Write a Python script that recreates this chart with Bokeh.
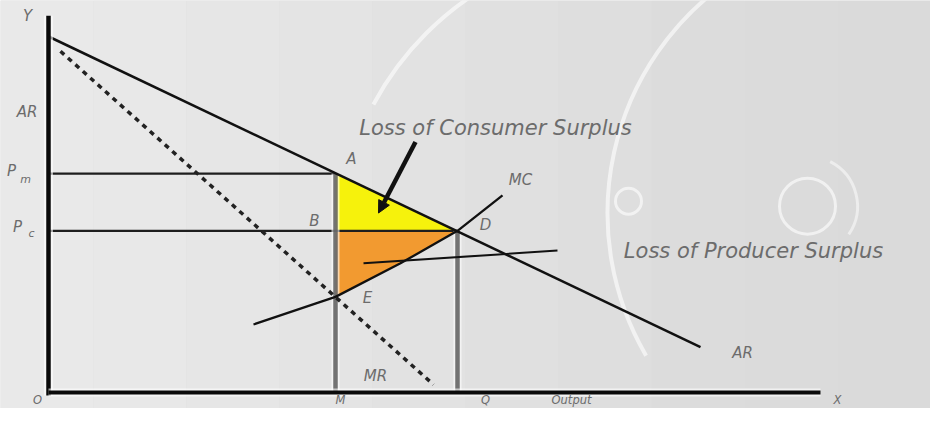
from bokeh.plotting import figure
from bokeh.models import Range1d, Arrow, NormalHead
from bokeh.core.properties import value
from bokeh.embed import file_html
from bokeh.resources import INLINE

# ---- economic curves (quantity / price units, origin at O) ----
ar_q = [0, 652]            # average revenue (demand)
ar_p = [361, 46]
mr_q = [12, 385]           # marginal revenue (dashed)
mr_p = [346, 8]
mc_q = [205, 272, 287, 352, 409, 454]   # marginal cost
mc_p = [69, 92, 97, 131, 164, 200]
q_m, q_c = 287, 409        # monopoly output M, competitive output Q
p_m, p_c = 222, 164        # monopoly price, competitive price
p_e = 97                   # MC = MR at M (point E)
x_axis_len = 772
y_axis_len = 382

# pointers
cs_arrow = [367, 254, 330, 182]     # x0, y0, x1, y1
ps_pointer_q = [315, 509]
ps_pointer_p = [131, 144]

Y0, Y1 = -16.2, 397.5
p = figure(width=930, height=408, x_range=Range1d(-48, 882), y_range=Range1d(Y0, Y1),
           output_backend="svg", toolbar_location=None, min_border=0,
           x_axis_type=None, y_axis_type=None)
p.grid.visible = False
p.outline_line_color = None
p.background_fill_color = "#dedede"
p.border_fill_color = "#dedede"

# soft background gradient (lighter at left)
grays = ["#e9e9e9", "#e8e8e8", "#e6e6e6", "#e4e4e4", "#e2e2e2", "#e0e0e0",
         "#dedede", "#dcdcdc", "#dbdbdb", "#dadada"]
step = 93
p.quad(left=[-48 + i * step for i in range(10)], right=[-48 + (i + 1) * step for i in range(10)],
       bottom=Y0, top=Y1, fill_color=grays, line_color=None)

# decorative light arcs in background
p.arc(x=[592, 842], y=[147, 182], radius=[303, 283], radius_units="screen",
      start_angle=[2.06, 2.18], end_angle=[2.65, 3.67],
      line_color="white", line_alpha=0.6, line_width=4)
p.circle(x=[759, 580], y=[189, 194], radius=[28, 13], radius_units="screen", fill_color=None,
         line_color="white", line_alpha=0.6, line_width=3)
p.arc(x=[759], y=[189], radius=[50], radius_units="screen", start_angle=[-0.6], end_angle=[1.1],
      line_color="white", line_alpha=0.5, line_width=3)

# surplus areas
p.patch(x=[q_m, q_m, q_c], y=[ar_p[0] + (ar_p[1] - ar_p[0]) * q_m / ar_q[1], p_c, p_c],
        fill_color="#f6f20c", line_color=None)
orange_q = [q_m] + [q for q in mc_q if q_m < q <= q_c] + [q_m]
orange_p = [p_e] + [pp for q, pp in zip(mc_q, mc_p) if q_m < q <= q_c] + [p_c]
p.patch(x=orange_q, y=orange_p, fill_color="#f29a30", line_color=None)

# price lines
p.line(x=[0, q_m], y=[p_m, p_m], line_color="#1e1e1e", line_width=2.2)
p.line(x=[0, q_c], y=[p_c, p_c], line_color="#1e1e1e", line_width=2.2)

# output verticals
for qq, top in [(q_m, p_m), (q_c, p_c)]:
    p.line(x=[qq, qq], y=[0, top], line_color="white", line_width=8, line_alpha=0.6)
    p.line(x=[qq, qq], y=[0, top], line_color="#5c5c5c", line_width=4.5, line_alpha=0.85)

# curves
p.line(x=ar_q, y=ar_p, line_color="#111111", line_width=2.5)
p.line(x=mr_q, y=mr_p, line_color="#222222", line_width=3.5, line_dash="5 5")
p.line(x=mc_q, y=mc_p, line_color="#111111", line_width=2.3)

# axes
p.line(x=[0, 0], y=[-3, y_axis_len], line_color="white", line_width=9, line_alpha=0.6)
p.line(x=[0, 0], y=[-3, y_axis_len], line_color="#0a0a0a", line_width=4.5)
p.line(x=[0, x_axis_len], y=[0, 0], line_color="white", line_width=8, line_alpha=0.6)
p.line(x=[0, x_axis_len], y=[0, 0], line_color="#0a0a0a", line_width=4)

# pointers
p.add_layout(Arrow(end=NormalHead(size=12, fill_color="#111111", line_color="#111111"),
                   x_start=cs_arrow[0], y_start=cs_arrow[1], x_end=cs_arrow[2], y_end=cs_arrow[3],
                   line_width=4.5, line_color="#111111"))
p.line(x=ps_pointer_q, y=ps_pointer_p, line_color="#111111", line_width=2)

font = value("DejaVu Sans")
txt = "#6c6c6c"

def label(x, y, s, size="15px", align="center", baseline="middle"):
    p.text(x=[x], y=[y], text=[s], text_font=font, text_font_style="italic",
           text_font_size=size, text_color=txt, text_align=align, text_baseline=baseline)

label(447, 268, "Loss of Consumer Surplus", "21px")
label(705, 144, "Loss of Producer Surplus", "21px")
label(-21, 382, "Y")
label(-11, 284, "AR", align="right")
label(-37, 225, "P")
label(-23, 216, "m", "11px")
label(-31, 168, "P")
label(-17, 161, "c", "11px")
label(327, 17, "MR")
label(694, 40, "AR")
label(472, 215, "MC")
label(q_m + 16, p_m + 15, "A")
label(q_m - 21, p_c + 10, "B")
label(q_c + 28, p_c + 6, "D")
label(q_m + 32, p_e - 1, "E")
# labels below the quantity axis
for xx, s in [(-11, "O"), (q_m + 5, "M"), (q_c + 28, "Q"), (523, "Output"), (789, "X")]:
    label(xx, -15.0, s, "11.5px", baseline="bottom")

open("out.html", "w").write(file_html(p, INLINE))
